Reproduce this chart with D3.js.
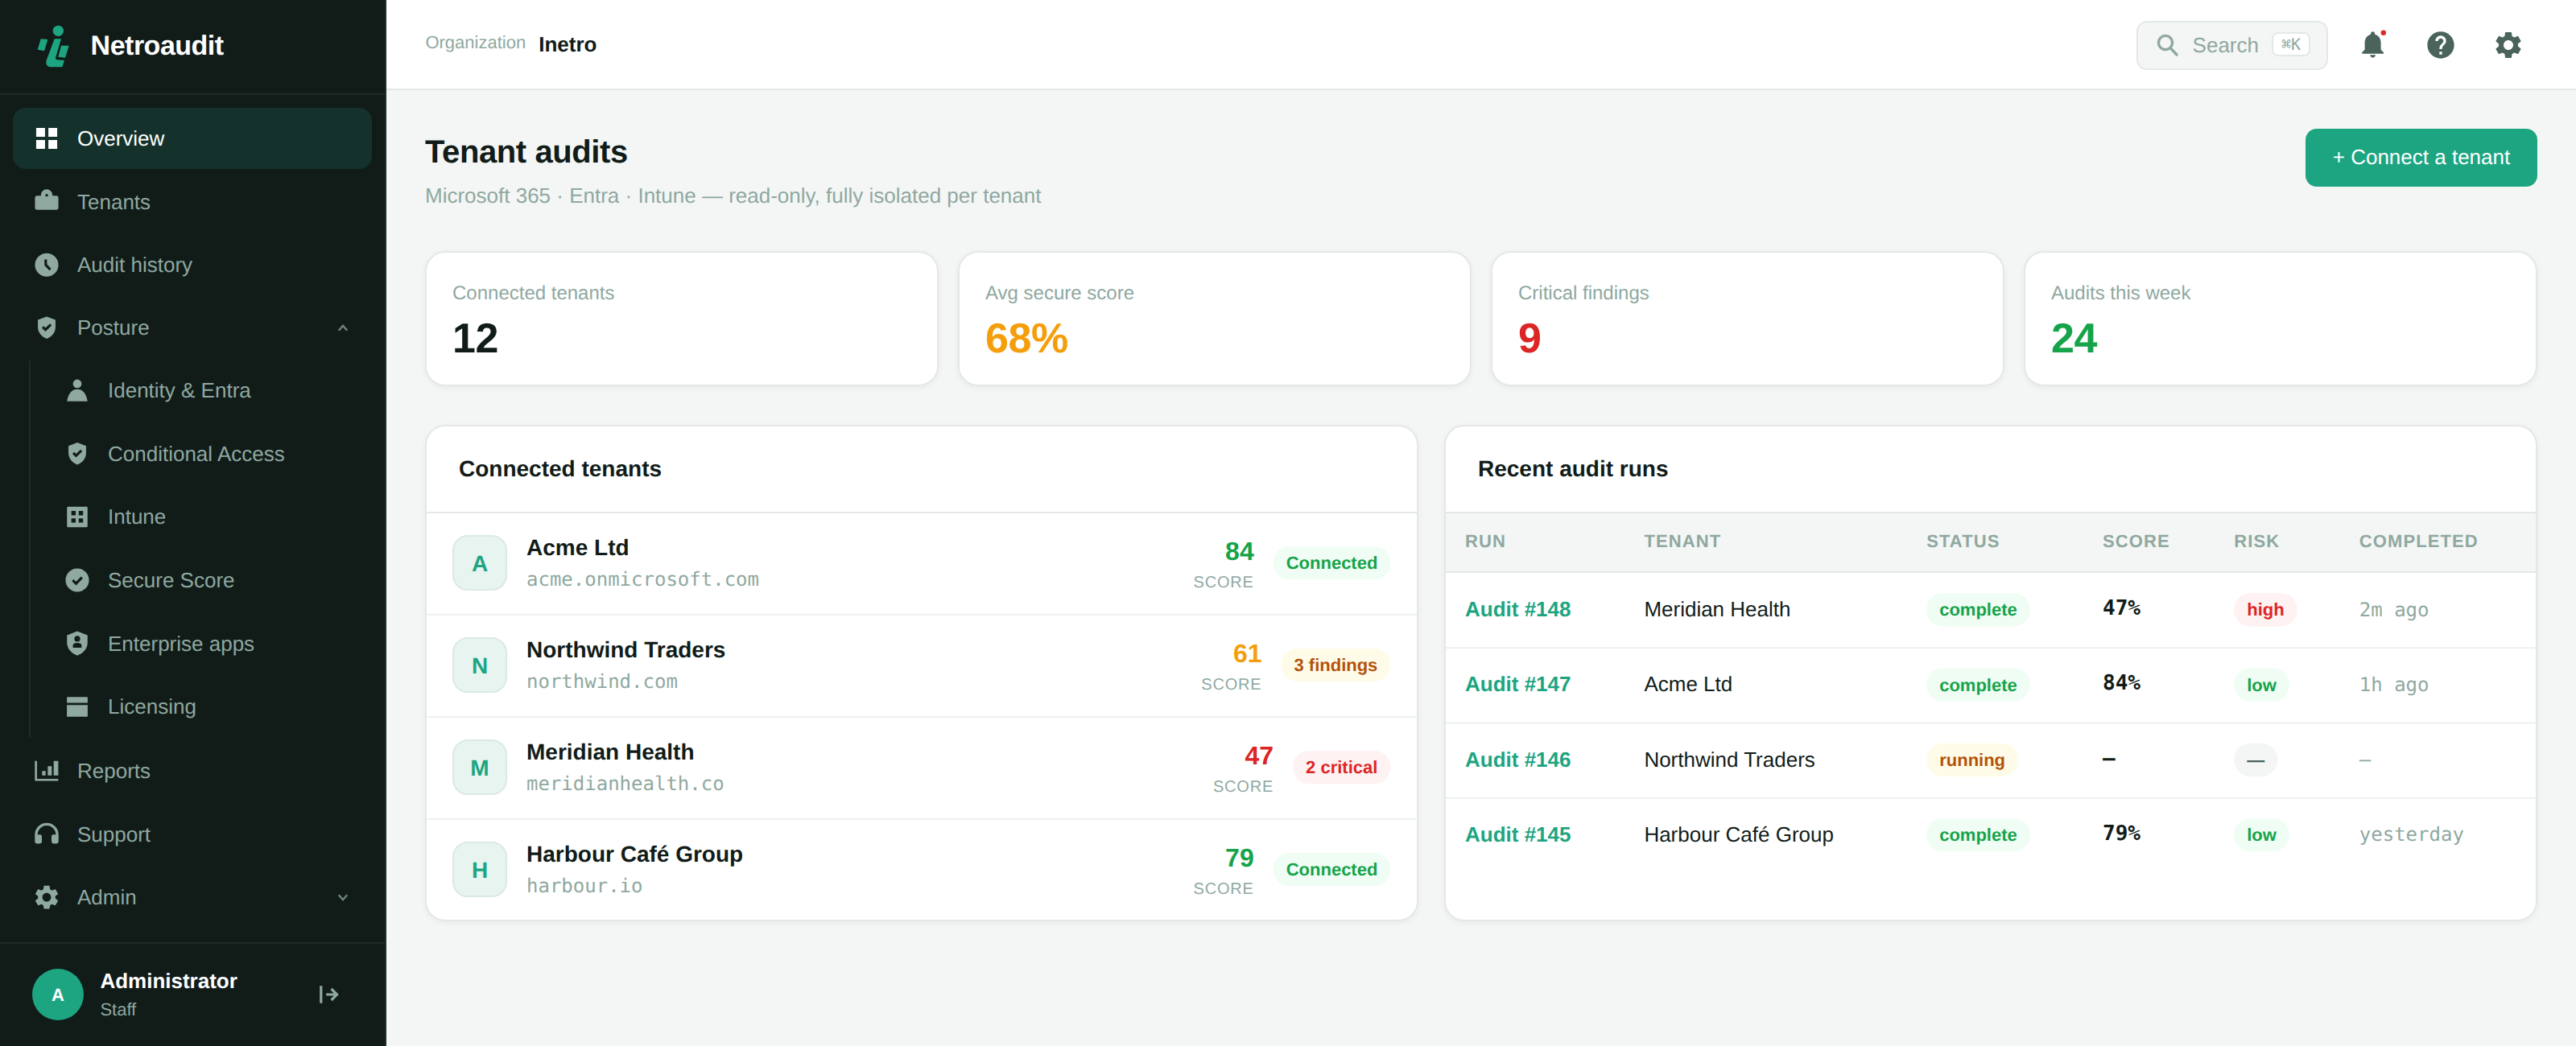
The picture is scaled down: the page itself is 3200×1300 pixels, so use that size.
<!DOCTYPE html>
<html>
<head>
<meta charset="utf-8">
<title>Netroaudit</title>
<script src="https://cdn.jsdelivr.net/npm/d3@7"></script>
<style>
  html, body { margin: 0; background: #f4f6f5; }
  svg { display: block; }
  text { font-family: "Liberation Sans", Arial, sans-serif; text-rendering: geometricPrecision; }
  .mono { font-family: "DejaVu Sans Mono", monospace; }
</style>
</head>
<body>
<div id="app"></div>
<script>
// sidebar
const navItems = ["Overview", "Tenants", "Audit history", "Posture", "Identity & Entra", "Conditional Access", "Intune", "Secure Score", "Enterprise apps", "Licensing", "Reports", "Support", "Admin"];
const subItems = ["Identity & Entra", "Conditional Access", "Intune", "Secure Score", "Enterprise apps", "Licensing"];

// kpi cards
const kpiLabels = ["Connected tenants", "Avg secure score", "Critical findings", "Audits this week"];
const kpiValues = ["12", "68%", "9", "24"];
const kpiColors = ["#111c19", "#f59e0b", "#dc2626", "#16a34a"];

// connected tenants
const tenantNames = ["Acme Ltd", "Northwind Traders", "Meridian Health", "Harbour Café Group"];
const tenantDomains = ["acme.onmicrosoft.com", "northwind.com", "meridianhealth.co", "harbour.io"];
const tenantScores = [84, 61, 47, 79];
const tenantBadges = ["Connected", "3 findings", "2 critical", "Connected"];

// audit runs
const runColumns = ["RUN", "TENANT", "STATUS", "SCORE", "RISK", "COMPLETED"];
const runIds = ["Audit #148", "Audit #147", "Audit #146", "Audit #145"];
const runTenants = ["Meridian Health", "Acme Ltd", "Northwind Traders", "Harbour Café Group"];
const runStatus = ["complete", "complete", "running", "complete"];
const runScores = ["47%", "84%", "–", "79%"];
const runRisks = ["high", "low", "—", "low"];
const runCompleted = ["2m ago", "1h ago", "—", "yesterday"];

const INK = "#111c19", MUTED = "#8fa8a0", TEAL = "#1da581", LINE = "#e3e8e6", PAGE = "#f4f6f5", SIDE = "#111c19";

const pillStyles = {
  green: ["#f0fdf4", "#16a34a"],
  amber: ["#fefce8", "#b45309"],
  red: ["#fef2f2", "#dc2626"],
  grey: ["#f4f6f5", "#4a635b"]
};
const badgeStyle = { "Connected": "green", "3 findings": "amber", "2 critical": "red", "complete": "green", "running": "amber", "high": "red", "low": "green", "—": "grey" };

const scoreColor = d3.scaleThreshold().domain([50, 70]).range(["#dc2626", "#f59e0b", "#16a34a"]);

// icon shapes in a 24 box: [path, holePath]
const SHIELD = "M12 2.8L19.3 5.6V11.5C19.3 16 16 19.7 12 21.2C8 19.7 4.7 16 4.7 11.5V5.6Z";
const GEAR = "M19.14 12.94c.04-.3.06-.61.06-.94 0-.32-.02-.64-.07-.94l2.03-1.58c.18-.14.23-.41.12-.61l-1.92-3.32c-.12-.22-.37-.29-.59-.22l-2.39.96c-.5-.38-1.03-.7-1.62-.94l-.36-2.54c-.04-.24-.24-.41-.48-.41h-3.84c-.24 0-.43.17-.47.41l-.36 2.54c-.59.24-1.13.57-1.62.94l-2.39-.96c-.22-.08-.47 0-.59.22L2.74 8.87c-.12.21-.08.47.12.61l2.03 1.58c-.05.3-.09.63-.09.94s.02.64.07.94l-2.03 1.58c-.18.14-.23.41-.12.61l1.92 3.32c.12.22.37.29.59.22l2.39-.96c.5.38 1.03.7 1.62.94l.36 2.54c.05.24.24.41.48.41h3.84c.24 0 .44-.17.47-.41l.36-2.54c.59-.24 1.13-.56 1.62-.94l2.39.96c.22.08.47 0 .59-.22l1.92-3.32c.12-.22.07-.47-.12-.61l-2.01-1.58zM12 15.6c-1.98 0-3.6-1.62-3.6-3.6s1.62-3.6 3.6-3.6 3.6 1.62 3.6 3.6-1.62 3.6-3.6 3.6z";
const icons = {
  "Overview": { fill: "M3.3 3.3h7.3v7.3H3.3zM13.4 3.3h7.3v7.3h-7.3zM3.3 13.4h7.3v7.3H3.3zM13.4 13.4h7.3v7.3h-7.3z" },
  "Tenants": { fill: "M7.3 7.1V6.5a4.7 4.7 0 0 1 9.4 0V7.1H20a1.8 1.8 0 0 1 1.7 1.8V17a1.8 1.8 0 0 1-1.7 1.8H4A1.8 1.8 0 0 1 2.3 17V8.9A1.8 1.8 0 0 1 4 7.1Z", hole: "M10.9 6.7a1.1 1.1 0 1 0 2.2 0a1.1 1.1 0 1 0-2.2 0Z" },
  "Audit history": { fill: "M2.3 12a9.7 9.7 0 1 0 19.4 0a9.7 9.7 0 1 0-19.4 0Z", stroke: "M11.2 7.5V12L15 16" },
  "Posture": { fill: SHIELD, stroke: "M8.7 11.4L11 13.7L15.4 9.4" },
  "Identity & Entra": { fill: "M8.4 6.5a3.6 3.6 0 1 0 7.2 0a3.6 3.6 0 1 0-7.2 0ZM3.5 21.1C4.5 14 8 11 12 11C16 11 19.5 14 20.5 21.1Z" },
  "Conditional Access": { fill: SHIELD, stroke: "M8.7 11.4L11 13.7L15.4 9.4" },
  "Intune": { fill: "M4.3 3.5h15.4a.8.8 0 0 1 .8.8v15.4a.8.8 0 0 1-.8.8H4.3a.8.8 0 0 1-.8-.8V4.3a.8.8 0 0 1 .8-.8Z", hole: "M7.1 7.1h3.6v3.6H7.1zM13.2 7.1h3.6v3.6h-3.6zM7.1 13.2h3.6v3.6H7.1zM13.2 13.2h3.6v3.6h-3.6z" },
  "Secure Score": { fill: "M2.3 12a9.7 9.7 0 1 0 19.4 0a9.7 9.7 0 1 0-19.4 0Z", stroke: "M8.2 12.1L11 14.8L15.9 9.7" },
  "Enterprise apps": { fill: "M12 1.9L20.5 5.2V11.5C20.5 16.5 16.8 20.5 12 22.1C7.2 20.5 3.5 16.5 3.5 11.5V5.2Z", hole: "M9.6 8.2a2.4 2.4 0 1 0 4.8 0a2.4 2.4 0 1 0-4.8 0ZM8.4 15.6V13.6C8.4 12.4 10 11.6 12 11.6C14 11.6 15.6 12.4 15.6 13.6V15.6Z" },
  "Licensing": { fill: "M4 4h16a.6.6 0 0 1 .6.6V8.9H3.4V4.6A.6.6 0 0 1 4 4ZM3.4 10.7h17.2v9.1a.6.6 0 0 1-.6.6H4a.6.6 0 0 1-.6-.6Z" },
  "Reports": { fill: "M2.2 3.8H4V18.7H21.6V20.4H3a.8.8 0 0 1-.8-.8ZM8.2 12.2h2.9v3.6H8.2zM12.9 8.2h3.3v7.6h-3.3zM17.8 3.8h3.8v12h-3.8z" },
  "Support": { fill: "M2.2 14a1.6 1.6 0 0 1 1.6-1.6H6.4A1.6 1.6 0 0 1 8 14V18a2 2 0 0 1-2 2H4.2a2 2 0 0 1-2-2ZM16 14a1.6 1.6 0 0 1 1.6-1.6H20.2A1.6 1.6 0 0 1 21.8 14V18a2 2 0 0 1-2 2H18a2 2 0 0 1-2-2Z", line: "M3.3 14V12.6a8.7 8.7 0 0 1 17.4 0V14" },
  "Admin": { fill: GEAR },
  "bell": { fill: "M12 22c1.1 0 2-.9 2-2h-4c0 1.1.89 2 2 2zm6-6v-5c0-3.07-1.64-5.64-4.5-6.32V4c0-.83-.67-1.5-1.5-1.5s-1.5.67-1.5 1.5v.68C7.63 5.36 6 7.92 6 11v5l-2 2v1h16v-1l-2-2z" },
  "help": { fill: "M12 2C6.48 2 2 6.48 2 12s4.48 10 10 10 10-4.48 10-10S17.52 2 12 2zm1 17h-2v-2h2v2zm2.07-7.75l-.9.92C13.45 12.9 13 13.5 13 15h-2v-.5c0-1.1.45-2.1 1.17-2.83l1.24-1.26c.37-.36.59-.86.59-1.41 0-1.1-.9-2-2-2s-2 .9-2 2H8c0-2.21 1.79-4 4-4s4 1.79 4 4c0 .88-.36 1.68-.93 2.25z" },
  "gear": { fill: GEAR }
};

const svg = d3.select("#app").append("svg")
  .attr("width", 3200)
  .attr("height", 1300)
  .attr("viewBox", "0 0 1600 650");

function label(parent, x, y, str, size, color, opts = {}) {
  return parent.append("text")
    .attr("class", opts.mono ? "mono" : null)
    .attr("x", x)
    .attr("y", y)
    .attr("font-size", size)
    .attr("font-weight", opts.bold ? 700 : 400)
    .attr("fill", color)
    .attr("text-anchor", opts.anchor || "start")
    .attr("letter-spacing", opts.spacing || null)
    .text(str);
}

function drawIcon(parent, name, cx, cy, size, color, back) {
  const ic = icons[name];
  const g = parent.append("g").attr("transform", `translate(${cx - size / 2},${cy - size / 2}) scale(${size / 24})`);
  if (ic.line) g.append("path").attr("d", ic.line).attr("fill", "none").attr("stroke", color).attr("stroke-width", 2.2);
  g.append("path").attr("d", ic.fill).attr("fill", color);
  if (ic.hole) g.append("path").attr("d", ic.hole).attr("fill", back);
  if (ic.stroke) g.append("path").attr("d", ic.stroke).attr("fill", "none").attr("stroke", back).attr("stroke-width", 2.1);
}

// returns the left edge of the pill
function pill(parent, str, x, cy, anchor) {
  const [bg, fg] = pillStyles[badgeStyle[str]];
  const rect = parent.append("rect");
  const t = label(parent, 0, cy + 3.8, str, 11, fg, { bold: true });
  const w = t.node().getComputedTextLength() + 16;
  const leftEdge = anchor === "end" ? x - w : x;
  t.attr("x", leftEdge + 8);
  rect.attr("x", leftEdge).attr("y", cy - 10.3).attr("width", w).attr("height", 20.6).attr("rx", 10).attr("fill", bg);
  return leftEdge;
}

function card(parent, x, y, w, h, r) {
  return parent.append("rect")
    .attr("x", x + 0.5).attr("y", y + 0.5)
    .attr("width", w - 1).attr("height", h - 1)
    .attr("rx", r)
    .attr("fill", "#fff")
    .attr("stroke", LINE)
    .style("filter", "drop-shadow(0 1px 1.5px rgba(17,28,25,.05))");
}

// ---- page ----
svg.append("rect").attr("width", 1600).attr("height", 650).attr("fill", PAGE);

// ---- sidebar ----
const side = svg.append("g");
side.append("rect").attr("width", 239).attr("height", 650).attr("fill", SIDE);
side.append("rect").attr("x", 239).attr("width", 1).attr("height", 650).attr("fill", "#1e2c28");
side.append("rect").attr("y", 58).attr("width", 239).attr("height", 1).attr("fill", "#1e2c28");
side.append("rect").attr("y", 585.5).attr("width", 239).attr("height", 1).attr("fill", "#1e2c28");

// logo, drawn on a 6x grid
const logo = side.append("g").attr("transform", "translate(10,10) scale(0.16667)").attr("fill", TEAL);
logo.append("circle").attr("cx", 157).attr("cy", 55).attr("r", 20);
logo.append("path").attr("d", "M92 85L118 87L105 130L80 125Z");
logo.append("path").attr("d", "M143 85L168 85L147 155Q146 162 152 163L180 165L172 190L130 190Q108 190 113 165Z");
logo.append("path").attr("d", "M168 110L197 110L183 155L157 152Z");
label(side, 56.3, 34.2, "Netroaudit", 17, "#fff", { bold: true, spacing: "-0.25" });

const navY = d3.scalePoint().domain(navItems).range([86, 557.6]);

side.append("rect").attr("x", 8).attr("y", 67).attr("width", 223).attr("height", 38).attr("rx", 8).attr("fill", "#14322b");
side.append("rect").attr("x", 18).attr("y", 224).attr("width", 1).attr("height", 234).attr("fill", "#1e2c28");

navItems.forEach(name => {
  const sub = subItems.includes(name);
  const active = name === "Overview";
  const y = navY(name) - (sub ? 0.6 : name === "Posture" ? 0.3 : 0);
  drawIcon(side, name, sub ? 48 : 29, y, 18, active ? "#fff" : MUTED, active ? "#14322b" : SIDE);
  label(side, sub ? 67 : 48, y + 4.5, name, 13, active ? "#fff" : MUTED);
});

const chevrons = [["Posture", -1], ["Admin", 1]];
chevrons.forEach(([name, dir]) => {
  const y = navY(name);
  side.append("path")
    .attr("d", `M210.4 ${y - dir * 1.5}L213 ${y + dir * 1.5}L215.6 ${y - dir * 1.5}`)
    .attr("fill", "none").attr("stroke", MUTED).attr("stroke-opacity", 0.75).attr("stroke-width", 1.2);
});

// footer user
side.append("circle").attr("cx", 36).attr("cy", 618).attr("r", 16).attr("fill", TEAL);
label(side, 36, 621.8, "A", 11, "#fff", { bold: true, anchor: "middle" });
label(side, 62.2, 614, "Administrator", 13, "#fff", { bold: true });
label(side, 62.2, 631, "Staff", 11, MUTED);
side.append("path")
  .attr("d", "M199.4 612.6V623.4M202.6 618H209M205.8 614.5L209.3 618L205.8 621.5")
  .attr("fill", "none").attr("stroke", MUTED).attr("stroke-width", 1.6);

// ---- top bar ----
const topBar = svg.append("g");
topBar.append("rect").attr("x", 240).attr("width", 1360).attr("height", 55).attr("fill", "#fff");
topBar.append("rect").attr("x", 240).attr("y", 55).attr("width", 1360).attr("height", 1).attr("fill", LINE);
label(topBar, 264.2, 30, "Organization", 11, MUTED);
label(topBar, 334.6, 32, "Inetro", 13, INK, { bold: true });

topBar.append("rect").attr("x", 1327.5).attr("y", 13.5).attr("width", 118).attr("height", 29.5).attr("rx", 6).attr("fill", PAGE).attr("stroke", LINE);
topBar.append("circle").attr("cx", 1345).attr("cy", 26.5).attr("r", 4.3).attr("fill", "none").attr("stroke", MUTED).attr("stroke-width", 1.7);
topBar.append("line").attr("x1", 1348.2).attr("y1", 29.9).attr("x2", 1352).attr("y2", 34).attr("stroke", MUTED).attr("stroke-width", 1.7).attr("stroke-linecap", "round");
label(topBar, 1361.8, 32.6, "Search", 13, MUTED);
topBar.append("rect").attr("x", 1411.5).attr("y", 20.5).attr("width", 23).attr("height", 14).attr("rx", 3.5).attr("fill", "#fff").attr("stroke", LINE);
label(topBar, 1423, 31.2, "⌘K", 10, MUTED, { mono: true, anchor: "middle" });

drawIcon(topBar, "bell", 1473.8, 27.5, 20, "#4a635b", "#fff");
topBar.append("circle").attr("cx", 1480.4).attr("cy", 20.4).attr("r", 1.6).attr("fill", "#dc2626");
drawIcon(topBar, "help", 1516, 28, 20, "#4a635b", "#fff");
drawIcon(topBar, "gear", 1558, 28, 20, "#4a635b", "#fff");

// ---- heading ----
const main = svg.append("g");
label(main, 264, 100.8, "Tenant audits", 20, INK, { bold: true, spacing: "-0.2" });
label(main, 264, 126, "Microsoft 365 · Entra · Intune — read-only, fully isolated per tenant", 13, MUTED);
main.append("rect").attr("x", 1432).attr("y", 80).attr("width", 144).attr("height", 36).attr("rx", 7).attr("fill", TEAL);
label(main, 1504, 102.2, "+ Connect a tenant", 13, "#fff", { anchor: "middle" });

// ---- kpi cards ----
const kpiX = d3.scaleBand().domain(kpiLabels).range([264, 1576]).paddingInner(12 / 331);
kpiLabels.forEach((name, i) => {
  const x = kpiX(name);
  card(main, x, 156, kpiX.bandwidth(), 84, 12);
  label(main, x + 17, 186, name, 12, MUTED);
  label(main, x + 17, 219, kpiValues[i], 26, kpiColors[i], { bold: true, spacing: "-0.2" });
});

// ---- connected tenants ----
const leftPanel = main.append("g");
card(leftPanel, 264, 264, 617, 308.5, 12);
label(leftPanel, 285, 296.2, "Connected tenants", 14, INK, { bold: true });
leftPanel.append("rect").attr("x", 265).attr("y", 318).attr("width", 615).attr("height", 1).attr("fill", LINE);

const tenantY = d3.scaleBand().domain(tenantNames).range([318, 572]);
tenantNames.forEach((name, i) => {
  const y = tenantY(name);
  const cy = y + tenantY.bandwidth() / 2;
  if (i > 0) leftPanel.append("rect").attr("x", 265).attr("y", y).attr("width", 615).attr("height", 1).attr("fill", "#eef1f0");
  leftPanel.append("rect").attr("x", 281.5).attr("y", cy - 16.8).attr("width", 33).attr("height", 33.6).attr("rx", 9).attr("fill", "#e8f4f0").attr("stroke", "#dbe9e4");
  label(leftPanel, 298, cy + 5, name[0], 14, TEAL, { bold: true, anchor: "middle" });
  label(leftPanel, 327, cy - 4.9, name, 14, INK, { bold: true });
  label(leftPanel, 327, cy + 14.3, tenantDomains[i], 12, MUTED, { mono: true });
  const pillLeft = pill(leftPanel, tenantBadges[i], 863.7, cy, "end");
  label(leftPanel, pillLeft - 12, cy - 1.9, tenantScores[i], 16, scoreColor(tenantScores[i]), { bold: true, anchor: "end" });
  label(leftPanel, pillLeft - 12, cy + 15.4, "SCORE", 10, MUTED, { anchor: "end", spacing: "0.4" });
});

// ---- recent audit runs ----
const rightPanel = main.append("g");
card(rightPanel, 897, 264, 679, 308.5, 12);
label(rightPanel, 918, 296.2, "Recent audit runs", 14, INK, { bold: true });
rightPanel.append("rect").attr("x", 898).attr("y", 318).attr("width", 677).attr("height", 37).attr("fill", PAGE);
rightPanel.append("rect").attr("x", 898).attr("y", 318).attr("width", 677).attr("height", 1).attr("fill", LINE);
rightPanel.append("rect").attr("x", 898).attr("y", 355).attr("width", 677).attr("height", 1).attr("fill", LINE);

const colX = d3.scaleOrdinal().domain(runColumns).range([910, 1021.2, 1196.6, 1306, 1387.6, 1465.4]);
runColumns.forEach(c => label(rightPanel, colX(c), 340, c, 11, MUTED, { bold: true, spacing: "0.55" }));

const runY = d3.scaleBand().domain(runIds).range([355.5, 542]);
runIds.forEach((id, i) => {
  const y = runY(id);
  const cy = y + runY.bandwidth() / 2;
  if (i > 0) rightPanel.append("rect").attr("x", 898).attr("y", y).attr("width", 677).attr("height", 1).attr("fill", "#eef1f0");
  label(rightPanel, colX("RUN"), cy + 4.3, id, 13, TEAL, { bold: true });
  label(rightPanel, colX("TENANT"), cy + 4.3, runTenants[i], 13, INK);
  pill(rightPanel, runStatus[i], colX("STATUS"), cy + 0.1);
  label(rightPanel, colX("SCORE"), cy + 3.2, runScores[i], 13, INK, { bold: true, mono: true });
  pill(rightPanel, runRisks[i], colX("RISK"), cy + 0.1);
  label(rightPanel, colX("COMPLETED"), cy + 4, runCompleted[i], 12, MUTED, { mono: true });
});
</script>
</body>
</html>
